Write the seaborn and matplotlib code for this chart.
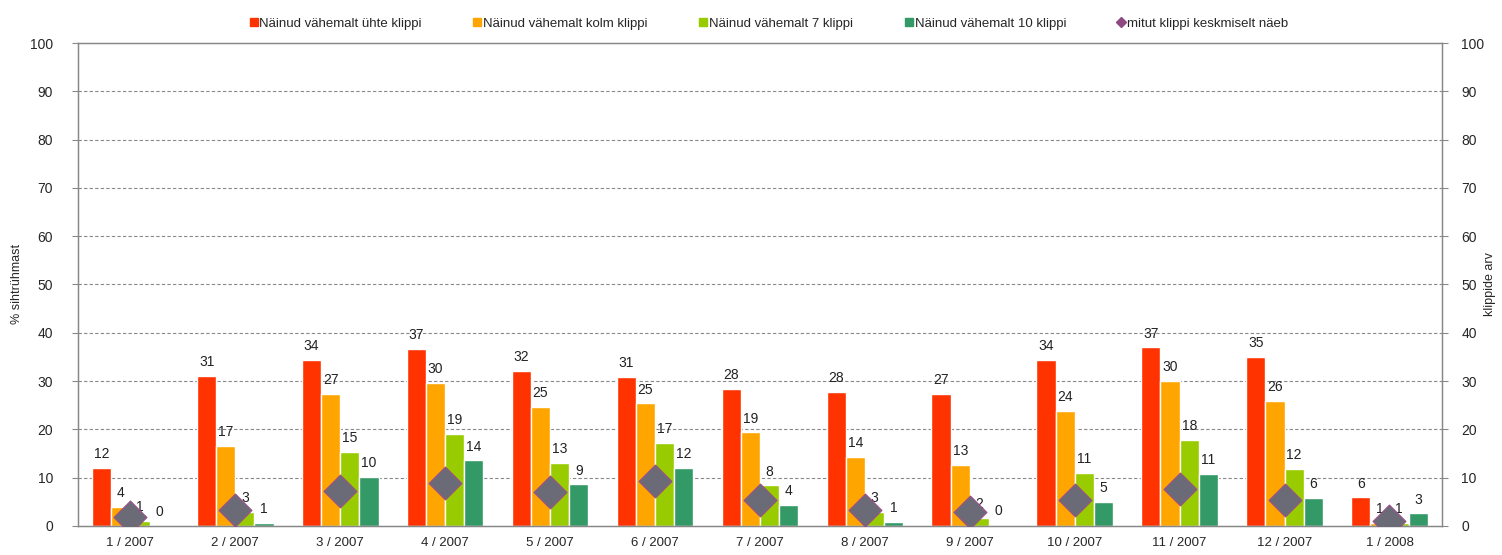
import numpy as np
import pandas as pd
import matplotlib
matplotlib.use("Agg")
import matplotlib.pyplot as plt
from matplotlib.lines import Line2D
import seaborn as sns

sns.set_style("white")
plt.rcParams["font.family"] = ["Liberation Sans", "DejaVu Sans"]

# data
months = ["1 / 2007", "2 / 2007", "3 / 2007", "4 / 2007", "5 / 2007", "6 / 2007",
          "7 / 2007", "8 / 2007", "9 / 2007", "10 / 2007", "11 / 2007", "12 / 2007",
          "1 / 2008"]
seen_1 = [12.0, 31.0, 34.4, 36.6, 32.1, 30.8, 28.4, 27.7, 27.4, 34.4, 37.0, 35.0, 5.9]
seen_3 = [3.9, 16.6, 27.4, 29.6, 24.6, 25.4, 19.4, 14.3, 12.6, 23.8, 30.0, 25.9, 0.7]
seen_7 = [1.0, 2.9, 15.4, 19.0, 13.0, 17.2, 8.4, 2.9, 1.7, 11.0, 17.8, 11.8, 0.7]
seen_10 = [0.1, 0.6, 10.1, 13.6, 8.6, 12.0, 4.3, 0.8, 0.3, 5.0, 10.8, 5.8, 2.6]
avg_clips = [1.9, 3.3, 7.2, 8.9, 7.1, 9.3, 5.4, 3.3, 2.9, 5.4, 7.6, 5.4, 1.1]

series_names = ["Näinud vähemalt ühte klippi", "Näinud vähemalt kolm klippi",
                "Näinud vähemalt 7 klippi", "Näinud vähemalt 10 klippi"]
diamond_name = "mitut klippi keskmiselt näeb"
colors = ["#FF3300", "#FFA500", "#99CC00", "#339966"]

rows = []
for name, vals in zip(series_names, [seen_1, seen_3, seen_7, seen_10]):
    for m, v in zip(months, vals):
        rows.append({"kuu": m, "seeria": name, "vaartus": v})
df = pd.DataFrame(rows)

fig = plt.figure(figsize=(15.02, 5.55), dpi=100)
ax = fig.add_axes([0.0519, 0.0523, 0.9081, 0.8702])

sns.barplot(data=df, x="kuu", y="vaartus", hue="seeria", order=months,
            hue_order=series_names, palette=colors, width=0.73, gap=0,
            saturation=1, ax=ax, legend=False, zorder=2)

# value labels above bars
for cont in ax.containers:
    for bar in cont:
        h = bar.get_height()
        ax.text(bar.get_x() + bar.get_width() / 2, h + 1.4, f"{h:.0f}",
                ha="center", va="bottom", fontsize=10, color="#222222", zorder=5)

ax.set_ylim(0, 100)
ax.set_xlim(-0.5, len(months) - 0.5)
ax.set_yticks(np.arange(0, 101, 10))
for y in range(10, 100, 10):
    ax.axhline(y, color="#888888", linestyle=(0, (3, 2)), linewidth=0.8, zorder=0)

ax.set_xlabel("")
ax.set_ylabel("")
ax.tick_params(axis="x", length=0, pad=8, labelsize=9.5)
ax.set_xticks(np.arange(-0.5, len(months)), minor=True)
ax.tick_params(axis="x", which="minor", length=5, color="#888888", direction="out")
ax.tick_params(axis="y", length=4, color="#888888", direction="out", labelsize=10, pad=14)
for s in ax.spines.values():
    s.set_color("#888888")
    s.set_linewidth(1.0)

# average number of clips on the secondary axis
ax2 = ax.twinx()
sns.scatterplot(x=np.arange(len(months)), y=avg_clips, marker="D", s=280,
                color="#6B6B78", edgecolor="#9A4D8A", linewidth=0.8, ax=ax2, zorder=6)
ax2.set_ylim(0, 100)
ax2.set_yticks(np.arange(0, 101, 10))
ax2.tick_params(axis="y", length=4, color="#888888", direction="out", labelsize=10, pad=10)
for s in ax2.spines.values():
    s.set_color("#888888")

fig.text(0.011, 0.488, "% sihtrühmast", rotation=90, ha="center", va="center", fontsize=9)
fig.text(0.992, 0.488, "klippide arv", rotation=90, ha="center", va="center", fontsize=9)

handles = [Line2D([], [], marker="s", linestyle="", color=c, markersize=5.5) for c in colors]
handles.append(Line2D([], [], marker="D", linestyle="", color="#8E4A80", markersize=5))
fig.legend(handles, series_names + [diamond_name], loc="upper center",
           bbox_to_anchor=(0.512, 0.99), ncol=5, frameon=False, fontsize=9.5,
           handlelength=0.6, handletextpad=0.15, columnspacing=3.9)

fig.savefig("out.png", dpi=100)
